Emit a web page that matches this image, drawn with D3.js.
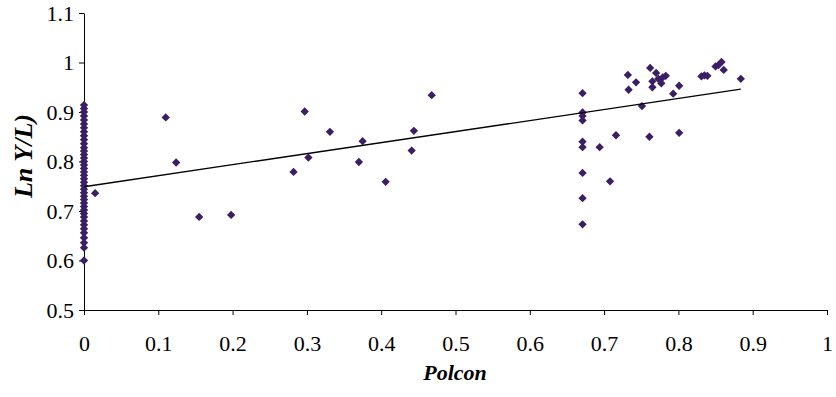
<!DOCTYPE html>
<html>
<head>
<meta charset="utf-8">
<script src="https://cdn.jsdelivr.net/npm/d3@7"></script>
<style>
  body { margin: 0; background: #fff; }
  svg { display: block; }
</style>
</head>
<body>
<div id="chart"></div>
<script>
// x = Polcon, y = Ln(Y/L)
const polcon = [
  0, 0, 0, 0, 0, 0, 0, 0, 0, 0, 0, 0, 0, 0, 0, 0, 0, 0, 0, 0,
  0, 0, 0, 0, 0, 0, 0, 0, 0, 0, 0, 0, 0, 0, 0, 0, 0, 0, 0, 0,
  0.015, 0.110, 0.124, 0.155, 0.198,
  0.282, 0.297, 0.302, 0.331, 0.370, 0.375, 0.406, 0.441, 0.444, 0.468,
  0.671, 0.671, 0.671, 0.671, 0.671, 0.671, 0.671, 0.671, 0.671,
  0.694, 0.708, 0.716, 0.732, 0.733, 0.743, 0.751, 0.761, 0.762, 0.765,
  0.765, 0.770, 0.773, 0.777, 0.779, 0.783, 0.793, 0.801, 0.801, 0.831,
  0.835, 0.839, 0.850, 0.854, 0.858, 0.861, 0.884
];
const lnYL = [
  0.600, 0.626, 0.636, 0.646, 0.656, 0.664, 0.672, 0.680, 0.688, 0.695, 0.702, 0.709, 0.716, 0.723, 0.730, 0.737, 0.744, 0.751, 0.758, 0.765,
  0.772, 0.779, 0.786, 0.793, 0.800, 0.807, 0.814, 0.821, 0.828, 0.836, 0.844, 0.852, 0.860, 0.868, 0.876, 0.884, 0.892, 0.900, 0.907, 0.914,
  0.736, 0.889, 0.798, 0.688, 0.692,
  0.779, 0.901, 0.808, 0.860, 0.799, 0.841, 0.759, 0.822, 0.862, 0.934,
  0.938, 0.899, 0.892, 0.883, 0.840, 0.829, 0.777, 0.726, 0.673,
  0.829, 0.760, 0.853, 0.975, 0.945, 0.960, 0.912, 0.850, 0.989, 0.962,
  0.950, 0.979, 0.967, 0.958, 0.970, 0.973, 0.937, 0.858, 0.953, 0.972,
  0.974, 0.973, 0.992, 0.995, 1.001, 0.985, 0.967
];

// linear trend line end points
const trendX = [0, 0.884];
const trendY = [0.749, 0.946];

const xTicks = [0, 0.1, 0.2, 0.3, 0.4, 0.5, 0.6, 0.7, 0.8, 0.9, 1];
const xTickLabels = ["0", "0.1", "0.2", "0.3", "0.4", "0.5", "0.6", "0.7", "0.8", "0.9", "1"];
const yTicks = [0.5, 0.6, 0.7, 0.8, 0.9, 1, 1.1];
const yTickLabels = ["0.5", "0.6", "0.7", "0.8", "0.9", "1", "1.1"];

const width = 836, height = 397;
const margin = { top: 13, right: 9, bottom: 87, left: 84 };
const serif = 'Liberation Serif, Times New Roman, serif';

const svg = d3.select('#chart').append('svg')
  .attr('width', width)
  .attr('height', height);

const x = d3.scaleLinear().domain([0, 1]).range([margin.left, width - margin.right]);
const y = d3.scaleLinear().domain([0.5, 1.1]).range([height - margin.bottom, margin.top]);

const xAxis = d3.axisBottom(x)
  .tickValues(xTicks)
  .tickFormat((d, i) => xTickLabels[i])
  .tickSizeInner(5)
  .tickSizeOuter(0)
  .tickPadding(20);

const yAxis = d3.axisLeft(y)
  .tickValues(yTicks)
  .tickFormat((d, i) => yTickLabels[i])
  .tickSizeInner(5)
  .tickSizeOuter(0)
  .tickPadding(5);

const gx = svg.append('g')
  .attr('transform', `translate(0,${height - margin.bottom})`)
  .call(xAxis);

const gy = svg.append('g')
  .attr('transform', `translate(${margin.left},0)`)
  .call(yAxis);

[gx, gy].forEach(g => {
  g.attr('font-family', serif).attr('font-size', 22);
  g.selectAll('text')
    .style('font-family', serif)
    .style('font-size', '22px')
    .attr('fill', '#000');
  g.selectAll('line, path').attr('stroke', '#000');
});

// axis titles
svg.append('text')
  .attr('x', 455)
  .attr('y', 380)
  .attr('text-anchor', 'middle')
  .style('font-family', serif)
  .style('font-size', '22px')
  .style('font-weight', 'bold')
  .style('font-style', 'italic')
  .text('Polcon');

svg.append('text')
  .attr('transform', 'translate(32,156) rotate(-90)')
  .attr('text-anchor', 'middle')
  .style('font-family', serif)
  .style('font-size', '26px')
  .style('font-weight', 'bold')
  .style('font-style', 'italic')
  .text('Ln Y/L)');

// points
const diamond = d3.symbol().type(d3.symbolDiamond2).size(44);
svg.append('g')
  .selectAll('path')
  .data(polcon.map((d, i) => [d, lnYL[i]]))
  .join('path')
  .attr('d', diamond)
  .attr('transform', d => `translate(${x(d[0])},${y(d[1])})`)
  .attr('fill', '#3b1e63');

// trend line
svg.append('path')
  .datum(trendX.map((d, i) => [d, trendY[i]]))
  .attr('d', d3.line().x(d => x(d[0])).y(d => y(d[1])))
  .attr('fill', 'none')
  .attr('stroke', '#000')
  .attr('stroke-width', 1.3);
</script>
</body>
</html>
